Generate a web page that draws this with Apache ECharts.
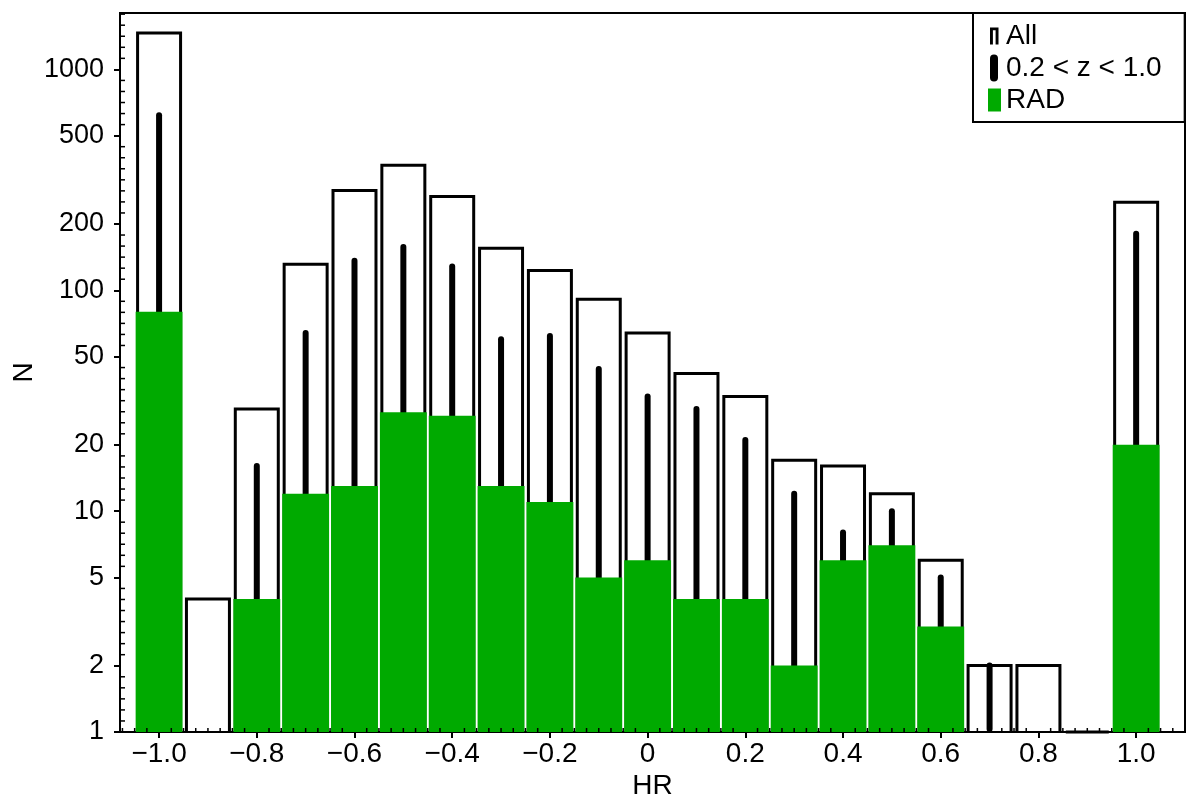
<!DOCTYPE html>
<html><head><meta charset="utf-8">
<script src="https://cdn.jsdelivr.net/npm/echarts@6/dist/echarts.min.js"></script>
<style>html,body{margin:0;padding:0;background:#fff}#c{width:1200px;height:810px}</style>
</head><body><div id="c"></div>
<script>
// ---- data ----
const hrBins    = [-1.0,-0.9,-0.8,-0.7,-0.6,-0.5,-0.4,-0.3,-0.2,-0.1,0.0,0.1,0.2,0.3,0.4,0.5,0.6,0.7,0.8,0.9,1.0];
const allCounts = [1460,4,29,131,283,368,266,155,123,91,64,42,33,17,16,12,6,2,2,1,250];
const zCounts   = [620,null,16,64,136,157,128,60,62,44,33,29,21,12,8,10,5,2,null,null,180];
const radCounts = [80,null,4,12,13,28,27,13,11,5,6,4,4,2,6,7,3,null,null,null,20];
const xTickValues = [-1.0,-0.8,-0.6,-0.4,-0.2,0,0.2,0.4,0.6,0.8,1.0];
const yTickValues = [1,2,5,10,20,50,100,200,500,1000];
const seriesNames = ['All','0.2 < z < 1.0','RAD'];
const xName = 'HR', yName = 'N';

// ---- config ----
const X_MIN = -1.08, X_MAX = 1.1, Y_MIN = 1, Y_MAX = 1800;
const FONT = "'Liberation Sans',Arial,sans-serif";
const GREEN = '#00aa00';
const HALF_ALL = 0.044, HALF_RAD = 0.048;

const pairs = arr => hrBins.map((x,i)=>[x, arr[i]]).filter(p=>p[1]!=null);

// minor tick positions (axis decoration)
const minorX = [];
for (let k = -43; k <= 44; k++) { const v = k*0.025; if (Math.abs(v/0.2 - Math.round(v/0.2)) > 1e-6) minorX.push([+v.toFixed(3), Y_MIN]); }
const minorY = [];
for (let k = 1; k <= 65; k++) { const lv = k*0.05; const v = Math.pow(10, lv);
  if (!yTickValues.some(t => Math.abs(Math.log10(t)-lv) < 0.02) && v < Y_MAX) minorY.push([X_MIN, v]); }

const chart = echarts.init(document.getElementById('c'), null, {renderer:'canvas'});
const xFmt = v => v === 0 ? '0' : (v < 0 ? '\u2212' : '') + Math.abs(v).toFixed(1);

chart.setOption({
  animation: false,
  backgroundColor: '#fff',
  textStyle: {fontFamily: FONT, color: '#000'},
  grid: {left: 120, right: 15, top: 13, bottom: 78, show: true, borderColor: '#000', borderWidth: 2, outerBoundsMode: 'none', containLabel: false},
  legend: {
    left: 973, top: 13, orient: 'vertical',
    padding: [9, 23, 8, 14], itemGap: 4, itemWidth: 14, itemHeight: 27,
    borderColor: '#000', borderWidth: 2, borderRadius: 0, backgroundColor: '#fff',
    textStyle: {fontFamily: FONT, fontSize: 28, color: '#000'},
    selectedMode: false,
    data: [
      {name: seriesNames[0], icon: 'path://M0,0L0,0M14,27L14,27M3,5H11.5V22H8.6V7.8H5.9V22H3Z', itemStyle: {color: '#000', borderWidth: 0}},
      {name: seriesNames[1], icon: 'path://M0,0L0,0M14,27L14,27M3,4A4,4 0 0 1 11,4V23A4,4 0 0 1 3,23Z', itemStyle: {color: '#000', borderWidth: 0}},
      {name: seriesNames[2], icon: 'path://M0,0L0,0M14,27L14,27M1,2H14V25H1Z', itemStyle: {color: GREEN, borderWidth: 0}}
    ]
  },
  xAxis: {
    type: 'value', min: X_MIN, max: X_MAX,
    name: xName, nameLocation: 'middle', nameGap: 40, nameMoveOverlap: false,
    nameTextStyle: {fontFamily: FONT, fontSize: 28, color: '#000'},
    axisLine: {show: true, onZero: false, lineStyle: {color: '#000', width: 2}},
    axisTick: {show: true, inside: false, length: 6, lineStyle: {color: '#000', width: 2}, customValues: xTickValues},
    axisLabel: {fontFamily: FONT, fontSize: 28, color: '#000', margin: 8, customValues: xTickValues, formatter: xFmt},
    splitLine: {show: false}
  },
  yAxis: {
    type: 'log', logBase: 10, min: Y_MIN, max: Y_MAX,
    name: yName, nameLocation: 'middle', nameGap: 82, nameRotate: 90, nameMoveOverlap: false,
    nameTextStyle: {fontFamily: FONT, fontSize: 28, color: '#000'},
    axisLine: {show: true, onZero: false, lineStyle: {color: '#000', width: 2}},
    axisTick: {show: true, inside: false, length: 6, lineStyle: {color: '#000', width: 2}, customValues: yTickValues},
    axisLabel: {fontFamily: FONT, fontSize: 27, color: '#000', margin: 16, customValues: yTickValues, formatter: v => String(Math.round(v))},
    splitLine: {show: false}
  },
  series: [
    {
      name: seriesNames[0], type: 'custom', data: pairs(allCounts), z: 2,
      itemStyle: {color: '#000'},
      renderItem: (params, api) => {
        const x = api.value(0), v = api.value(1);
        const pts = [api.coord([x-HALF_ALL, Y_MIN]), api.coord([x-HALF_ALL, v]), api.coord([x+HALF_ALL, v]), api.coord([x+HALF_ALL, Y_MIN])];
        return {type: 'polyline', shape: {points: pts}, style: {stroke: '#000', lineWidth: 3, fill: null, lineJoin: 'miter'}};
      }
    },
    {
      name: seriesNames[1], type: 'custom', data: pairs(zCounts), z: 3,
      itemStyle: {color: '#000'},
      renderItem: (params, api) => {
        const x = api.value(0), v = api.value(1);
        const p0 = api.coord([x, Y_MIN]), p1 = api.coord([x, v]);
        return {type: 'line', shape: {x1: p0[0], y1: p0[1]-3, x2: p1[0], y2: p1[1]}, style: {stroke: '#000', lineWidth: 6, lineCap: 'round'}};
      }
    },
    {
      name: seriesNames[2], type: 'custom', data: pairs(radCounts), z: 4,
      itemStyle: {color: GREEN},
      renderItem: (params, api) => {
        const x = api.value(0), v = api.value(1);
        const p0 = api.coord([x-HALF_RAD, v]), p1 = api.coord([x+HALF_RAD, Y_MIN]);
        return {type: 'rect', shape: {x: p0[0], y: p0[1], width: p1[0]-p0[0], height: p1[1]-p0[1]}, style: {fill: GREEN}};
      }
    },
    {
      name: 'minorX', type: 'custom', data: minorX, z: 5, silent: true,
      renderItem: (params, api) => {
        const p = api.coord([api.value(0), api.value(1)]);
        return {type: 'line', shape: {x1: p[0], y1: p[1], x2: p[0], y2: p[1]-4}, style: {stroke: '#000', lineWidth: 1.5}};
      }
    },
    {
      name: 'minorY', type: 'custom', data: minorY, z: 5, silent: true,
      renderItem: (params, api) => {
        const p = api.coord([api.value(0), api.value(1)]);
        return {type: 'line', shape: {x1: p[0], y1: p[1], x2: p[0]+5, y2: p[1]}, style: {stroke: '#000', lineWidth: 1.5}};
      }
    }
  ]
});
</script></body></html>
